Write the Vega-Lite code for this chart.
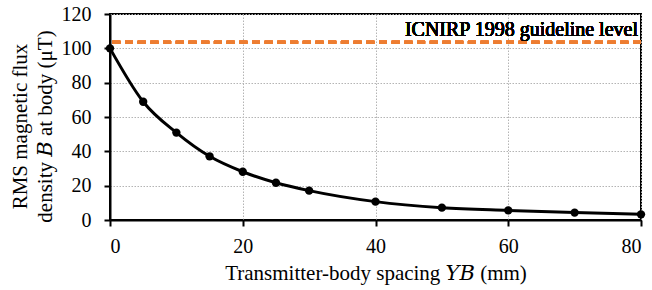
{
  "$schema": "https://vega.github.io/schema/vega-lite/v6.json",
  "width": 531,
  "height": 206,
  "autosize": "none",
  "padding": {"left": 110, "top": 14, "right": 11, "bottom": 70},
  "background": "white",
  "config": {
    "font": "Liberation Serif",
    "view": {"stroke": "black", "strokeWidth": 2},
    "axis": {
      "labelFont": "Liberation Serif",
      "titleFont": "Liberation Serif, DejaVu Serif",
      "labelFontSize": 20,
      "titleFontSize": 21,
      "titleFontWeight": "normal",
      "labelColor": "black",
      "titleColor": "black",
      "domainColor": "black",
      "domainWidth": 2,
      "tickColor": "black",
      "tickWidth": 2,
      "tickSize": 6,
      "gridColor": "#b4b4b4",
      "gridDash": [1.5, 1.5],
      "gridWidth": 1,
      "labelOverlap": false
    }
  },
  "data": {
    "values": [
      {"x": 0, "b": 100},
      {"x": 5, "b": 68.9},
      {"x": 10, "b": 50.9},
      {"x": 15, "b": 37.1},
      {"x": 20, "b": 28.1},
      {"x": 25, "b": 21.7},
      {"x": 30, "b": 17.1},
      {"x": 40, "b": 10.7},
      {"x": 50, "b": 7.2},
      {"x": 60, "b": 5.6},
      {"x": 70, "b": 4.3},
      {"x": 80, "b": 3.3}
    ]
  },
  "encoding": {
    "x": {
      "field": "x", "type": "quantitative",
      "scale": {"domain": [0, 80], "nice": false},
      "axis": {
        "values": [0, 20, 40, 60, 80], "labelPadding": 10,
        "title": "Transmitter-body spacing 𝑌𝐵 (mm)", "titlePadding": 6
      }
    },
    "y": {
      "field": "b", "type": "quantitative",
      "scale": {"domain": [0, 120], "nice": false},
      "axis": {
        "values": [0, 20, 40, 60, 80, 100, 120], "labelPadding": 13,
        "title": ["RMS magnetic flux", "density 𝐵 at body (μT)"], "titleLineHeight": 24.5, "titlePadding": 6, "titleY": 112
      }
    }
  },
  "layer": [
    {
      "mark": {"type": "line", "color": "black", "strokeWidth": 3, "interpolate": "monotone"}
    },
    {
      "mark": {"type": "point", "filled": true, "color": "black", "size": 70, "opacity": 1}
    },
    {
      "mark": {"type": "rule", "color": "#ED7D31", "strokeWidth": 3, "strokeDash": [8, 4.7]},
      "encoding": {"x": null, "y": {"datum": 103.5, "type": "quantitative"}}
    },
    {
      "mark": {"type": "text", "align": "right", "baseline": "alphabetic", "fontSize": 20, "font": "Liberation Serif", "fontWeight": "normal", "fill": "black", "strokeWidth": 0, "dx": -3, "dy": -6},
      "encoding": {
        "x": {"datum": 80, "type": "quantitative"},
        "y": {"datum": 103.5, "type": "quantitative"},
        "text": {"value": "ICNIRP 1998 guideline level"}
      }
    }
  ]
}
